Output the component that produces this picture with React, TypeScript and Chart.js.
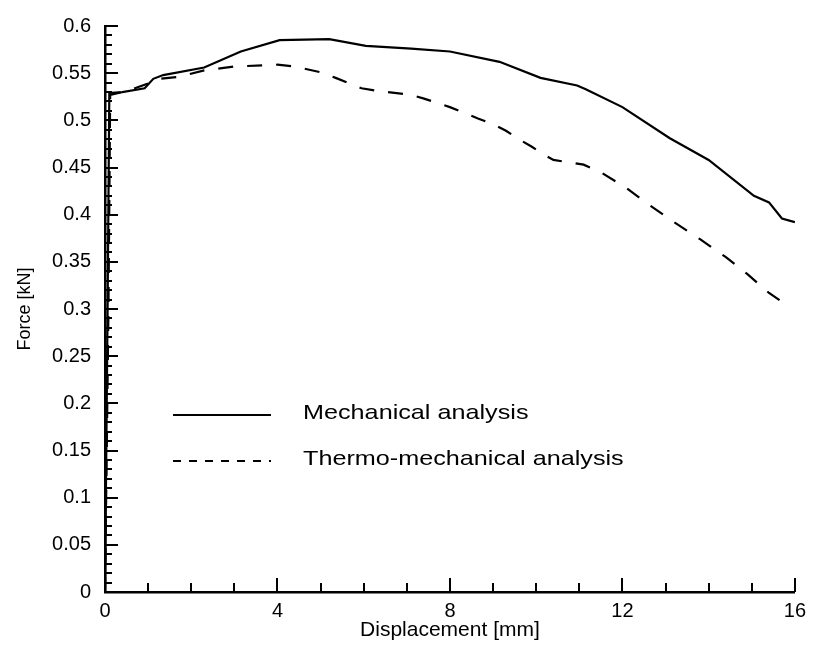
import React, { useEffect, useRef } from "react";
import { Chart, registerables } from "chart.js";

Chart.register(...registerables);

const mechX = [0, 0.06, 0.1, 0.4, 0.92, 1.12, 1.35, 2.3, 3.15, 4.05, 5.2, 6.05, 7.1, 8.0, 9.15, 10.1, 10.95, 11.15, 12.0, 13.1, 14.0, 15.05, 15.4, 15.7, 16.0];
const mechY = [0, 0.3, 0.529, 0.53, 0.534, 0.544, 0.548, 0.556, 0.573, 0.585, 0.586, 0.579, 0.576, 0.573, 0.562, 0.545, 0.537, 0.533, 0.514, 0.481, 0.458, 0.42, 0.413, 0.396, 0.392];

const thermoX = [0, 0.08, 0.12, 0.5, 1.0, 1.25, 1.7, 2.3, 3.0, 4.0, 4.4, 5.0, 5.35, 5.95, 6.35, 7.1, 7.4, 8.0, 8.65, 9.0, 9.3, 9.6, 9.9, 10.2, 10.4, 11.1, 11.5, 12.1, 12.6, 13.2, 13.8, 14.4, 14.9, 15.4, 15.75];
const thermoY = [0, 0.3, 0.527, 0.531, 0.539, 0.544, 0.546, 0.553, 0.557, 0.559, 0.557, 0.551, 0.545, 0.534, 0.531, 0.527, 0.523, 0.514, 0.502, 0.496, 0.489, 0.48, 0.472, 0.463, 0.458, 0.453, 0.445, 0.428, 0.411, 0.392, 0.374, 0.355, 0.337, 0.317, 0.306];

const seriesLabels = ["Mechanical analysis", "Thermo-mechanical analysis"];
const xTitle = "Displacement [mm]";
const yTitle = "Force [kN]";

const FONT = "'Liberation Sans', Arial, Helvetica, sans-serif";

const tickPlugin = {
  id: "inwardTicks",
  afterDatasetsDraw(chart: any) {
    const ctx = chart.ctx;
    const xs = chart.scales.x;
    const ys = chart.scales.y;
    const area = chart.chartArea;
    ctx.save();
    ctx.strokeStyle = "#000";
    ctx.lineWidth = 2;
    ctx.setLineDash([]);
    for (let i = 0; i <= 60; i++) {
      const v = i / 100;
      const py = Math.round(ys.getPixelForValue(v));
      const len = i % 5 === 0 ? 13 : 7;
      ctx.beginPath();
      ctx.moveTo(area.left, py);
      ctx.lineTo(area.left + len, py);
      ctx.stroke();
    }
    for (let i = 0; i <= 16; i++) {
      const px = Math.round(xs.getPixelForValue(i));
      const len = i % 4 === 0 ? 14 : 9;
      ctx.beginPath();
      ctx.moveTo(px, area.bottom);
      ctx.lineTo(px, area.bottom - len);
      ctx.stroke();
    }
    ctx.restore();
  },
};

const legendPlugin = {
  id: "inlineLegend",
  afterDatasetsDraw(chart: any) {
    const ctx = chart.ctx;
    ctx.save();
    ctx.strokeStyle = "#000";
    ctx.lineWidth = 2;
    const rows = [
      { dash: [] as number[], y: 415, base: 419 },
      { dash: [8, 8], y: 461, base: 465 },
    ];
    rows.forEach((r, i) => {
      ctx.setLineDash(r.dash);
      ctx.beginPath();
      ctx.moveTo(173, r.y);
      ctx.lineTo(271, r.y);
      ctx.stroke();
      ctx.setLineDash([]);
      ctx.save();
      ctx.translate(303, r.base);
      ctx.scale(1.2, 1);
      ctx.fillStyle = "#000";
      ctx.font = `21px ${FONT}`;
      ctx.textBaseline = "alphabetic";
      ctx.textAlign = "left";
      ctx.fillText(seriesLabels[i], 0, 0);
      ctx.restore();
    });
    ctx.restore();
  },
};

export default function App() {
  const ref = useRef<HTMLCanvasElement | null>(null);
  useEffect(() => {
    document.body.style.margin = "0";
    const canvas = ref.current;
    if (!canvas) return;
    const chart = new Chart(canvas, {
      type: "scatter",
      data: {
        datasets: [
          {
            label: seriesLabels[0],
            data: mechX.map((x, i) => ({ x, y: mechY[i] })),
            showLine: true,
            borderColor: "#000",
            borderWidth: 2.2,
            pointRadius: 0,
            tension: 0,
          },
          {
            label: seriesLabels[1],
            data: thermoX.map((x, i) => ({ x, y: thermoY[i] })),
            showLine: true,
            borderColor: "#000",
            borderWidth: 2.2,
            borderDash: [15, 14],
            pointRadius: 0,
            tension: 0,
          },
        ],
      },
      options: {
        animation: false,
        responsive: false,
        maintainAspectRatio: false,
        layout: { padding: { left: 0, right: 15, top: 17, bottom: 0 } },
        plugins: {
          legend: { display: false },
          tooltip: { enabled: false },
        },
        scales: {
          x: {
            type: "linear",
            min: 0,
            max: 16,
            afterFit: (s: any) => {
              s.height = 59;
            },
            ticks: {
              stepSize: 4,
              color: "#000",
              font: { family: FONT, size: 20 },
              padding: 7,
              maxRotation: 0,
            },
            grid: { display: true, drawOnChartArea: false, drawTicks: false, color: "#000" },
            border: { display: true, color: "#000", width: 2.5 },
            title: {
              display: true,
              text: xTitle,
              color: "#000",
              font: { family: FONT, size: 21 },
              padding: { top: 0, bottom: 8 },
            },
          },
          y: {
            type: "linear",
            min: 0,
            max: 0.6,
            afterFit: (s: any) => {
              s.width = 105;
            },
            ticks: {
              stepSize: 0.05,
              color: "#000",
              font: { family: FONT, size: 20 },
              padding: 14,
              callback: (v: any) => String(Math.round(Number(v) * 100) / 100),
            },
            grid: { display: true, drawOnChartArea: false, drawTicks: false, color: "#000" },
            border: { display: true, color: "#000", width: 2.5 },
            title: {
              display: true,
              text: yTitle,
              color: "#000",
              font: { family: FONT, size: 18 },
              padding: { top: 14, bottom: 0 },
            },
          },
        },
      },
      plugins: [tickPlugin, legendPlugin],
    });
    return () => chart.destroy();
  }, []);
  return (
    <div style={{ position: "absolute", left: 0, top: 0, width: 813, height: 651, background: "#fff" }}>
      <canvas ref={ref} width={813} height={651} />
    </div>
  );
}
